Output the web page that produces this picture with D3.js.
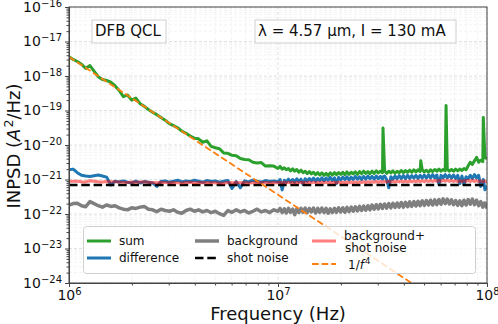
<!DOCTYPE html>
<html lang="en">
<head>
<meta charset="UTF-8">
<title>INPSD of a DFB QCL</title>
<script src="https://cdn.jsdelivr.net/npm/d3@7"></script>
<style>
  body { margin: 0; background: #fff; }
  svg { display: block; font-family: "DejaVu Sans", sans-serif; }
  .grid-major { stroke: #d8d8d8; stroke-width: 0.8; stroke-dasharray: 3,2; }
  .grid-minor { stroke: #ebebeb; stroke-width: 0.6; stroke-dasharray: 3,2; }
  .axis path, .axis line { stroke: #444; }
  .axis text { font-size: 14px; fill: #111; font-family: "DejaVu Sans", sans-serif; }
</style>
</head>
<body>
<div id="chart"></div>
<script>
// frequency points (MHz)
const freqMHz = [
  1.000, 1.047, 1.096, 1.148, 1.202, 1.259, 1.318, 1.380, 1.445, 1.514,
  1.585, 1.660, 1.738, 1.820, 1.905, 1.995, 2.089, 2.188, 2.291, 2.399,
  2.512, 2.630, 2.754, 2.884, 3.020, 3.162, 3.311, 3.467, 3.631, 3.802,
  3.981, 4.169, 4.365, 4.571, 4.786, 5.012, 5.248, 5.495, 5.754, 6.026,
  6.310, 6.607, 6.918, 7.244, 7.586, 7.943, 8.318, 8.710, 9.120, 9.550,
  10.00,
  10.23, 10.47, 10.72, 10.96, 11.22, 11.48, 11.75, 12.02, 12.30, 12.59,
  12.88, 13.18, 13.49, 13.80, 14.13, 14.45, 14.79, 15.14, 15.49, 15.85,
  16.22, 16.60, 16.98, 17.38, 17.78, 18.20, 18.62, 19.05, 19.50, 19.95,
  20.42, 20.89, 21.38, 21.88, 22.39, 22.91, 23.44, 23.99, 24.55, 25.12,
  25.70, 26.30, 26.92, 27.54, 28.18, 28.84, 29.51, 30.20, 30.90, 31.62,
  31.80,
  32.36, 33.11, 33.88, 34.67, 35.48, 36.31, 37.15, 38.02, 38.90, 39.81,
  40.74, 41.69, 42.66, 43.65, 44.67, 45.71, 46.77, 47.86,
  48.20,
  48.98, 50.12, 51.29, 52.48, 53.70, 54.95, 56.23, 57.54, 58.88, 60.26, 61.66, 63.10,
  63.70,
  64.57, 66.07, 67.61, 69.18, 70.79, 72.44, 74.13, 75.86, 77.62, 79.43,
  81.28, 83.18, 85.11, 87.10, 89.13, 91.20, 93.33, 95.50,
  96.00,
  97.72, 100.0
];

// INPSD (A^2/Hz)
const sumPSD = [
  3.63e-18, 3.02e-18, 2.63e-18, 2.19e-18, 1.66e-18, 2.00e-18, 1.38e-18, 9.55e-19, 7.94e-19, 7.41e-19,
  6.61e-19, 5.25e-19, 3.80e-19, 2.51e-19, 2.82e-19, 2.00e-19, 2.29e-19, 1.58e-19, 1.32e-19, 1.07e-19,
  8.91e-20, 7.59e-20, 6.31e-20, 5.25e-20, 4.17e-20, 3.63e-20, 3.16e-20, 2.51e-20, 2.19e-20, 1.82e-20,
  1.58e-20, 1.51e-20, 1.20e-20, 1.32e-20, 9.12e-21, 8.32e-21, 7.76e-21, 5.89e-21, 5.75e-21, 5.01e-21,
  4.90e-21, 4.07e-21, 3.80e-21, 3.72e-21, 3.16e-21, 3.02e-21, 3.09e-21, 2.45e-21, 2.51e-21, 2.45e-21,
  2.09e-21,
  2.40e-21, 2.00e-21, 2.19e-21, 1.91e-21, 2.09e-21, 1.78e-21, 2.04e-21, 1.74e-21, 1.95e-21, 1.62e-21,
  1.86e-21, 1.58e-21, 1.74e-21, 1.48e-21, 1.70e-21, 1.45e-21, 1.62e-21, 1.38e-21, 1.58e-21, 1.35e-21,
  1.55e-21, 1.32e-21, 1.51e-21, 1.32e-21, 1.55e-21, 1.35e-21, 1.58e-21, 1.38e-21, 1.58e-21, 1.41e-21,
  1.62e-21, 1.38e-21, 1.66e-21, 1.41e-21, 1.62e-21, 1.45e-21, 1.66e-21, 1.41e-21, 1.70e-21, 1.48e-21,
  1.74e-21, 1.51e-21, 1.70e-21, 1.48e-21, 1.74e-21, 1.51e-21, 1.78e-21, 1.55e-21, 1.74e-21, 1.58e-21,
  3.1e-20,
  1.78e-21, 1.51e-21, 1.74e-21, 1.55e-21, 1.78e-21, 1.51e-21, 1.74e-21, 1.58e-21, 1.82e-21, 1.58e-21,
  1.82e-21, 1.62e-21, 1.86e-21, 1.62e-21, 1.91e-21, 1.66e-21, 1.91e-21, 1.70e-21,
  3.5e-21,
  1.91e-21, 1.66e-21, 1.86e-21, 1.62e-21, 1.91e-21, 1.70e-21, 1.95e-21, 1.74e-21, 2.00e-21, 1.74e-21, 1.95e-21, 1.78e-21,
  1.4e-19,
  2.00e-21, 1.74e-21, 1.95e-21, 1.74e-21, 2.00e-21, 1.78e-21, 2.00e-21, 1.82e-21, 2.09e-21, 1.91e-21,
  2.51e-21, 3.16e-21, 2.75e-21, 3.47e-21, 4.37e-21, 3.16e-21, 3.63e-21, 3.31e-21,
  6.3e-20,
  4.37e-21, 3.98e-21
];

const diffPSD = [
  1.91e-21, 2.00e-21, 1.58e-21, 1.32e-21, 1.26e-21, 1.23e-21, 1.29e-21, 1.35e-21, 1.26e-21, 1.17e-21,
  6.92e-22, 8.91e-22, 8.51e-22, 9.12e-22, 8.32e-22, 7.94e-22, 8.91e-22, 7.94e-22, 8.71e-22, 8.32e-22,
  7.94e-22, 6.31e-22, 8.71e-22, 9.12e-22, 8.32e-22, 8.91e-22, 9.55e-22, 8.51e-22, 9.12e-22, 8.71e-22,
  9.55e-22, 8.91e-22, 8.32e-22, 9.33e-22, 8.71e-22, 9.12e-22, 8.32e-22, 8.91e-22, 9.33e-22, 5.50e-22,
  8.71e-22, 5.75e-22, 9.12e-22, 8.51e-22, 9.55e-22, 8.91e-22, 8.32e-22, 9.33e-22, 8.71e-22, 9.12e-22,
  8.51e-22,
  1.00e-21, 5.01e-22, 9.55e-22, 8.32e-22, 1.02e-21, 8.51e-22, 1.00e-21, 8.32e-22, 1.05e-21, 8.71e-22,
  1.02e-21, 7.24e-22, 1.05e-21, 8.91e-22, 1.07e-21, 9.12e-22, 1.10e-21, 8.91e-22, 1.07e-21, 9.33e-22,
  1.12e-21, 9.12e-22, 1.10e-21, 9.55e-22, 1.15e-21, 9.33e-22, 1.12e-21, 7.59e-22, 1.15e-21, 9.77e-22,
  1.17e-21, 1.00e-21, 1.20e-21, 9.77e-22, 1.17e-21, 1.00e-21, 1.23e-21, 1.02e-21, 1.20e-21, 1.00e-21,
  1.23e-21, 1.02e-21, 1.26e-21, 1.05e-21, 1.23e-21, 1.02e-21, 1.26e-21, 1.05e-21, 1.23e-21, 1.02e-21,
  1.20e-21,
  1.26e-21, 1.00e-21, 5.75e-22, 1.20e-21, 1.02e-21, 1.26e-21, 1.05e-21, 1.29e-21, 1.07e-21, 1.29e-21,
  1.05e-21, 1.32e-21, 1.07e-21, 1.29e-21, 1.10e-21, 1.32e-21, 1.07e-21, 1.32e-21,
  1.26e-21,
  1.10e-21, 1.35e-21, 1.10e-21, 1.35e-21, 1.12e-21, 1.38e-21, 1.12e-21, 1.35e-21, 7.24e-22, 1.32e-21, 1.12e-21, 1.38e-21,
  1.26e-21,
  1.12e-21, 1.35e-21, 1.10e-21, 1.35e-21, 1.07e-21, 1.32e-21, 7.59e-22, 1.26e-21, 7.24e-22, 1.20e-21,
  1.05e-21, 1.32e-21, 1.07e-21, 1.38e-21, 1.12e-21, 1.32e-21, 6.31e-22, 8.32e-22,
  1.00e-21,
  5.01e-22, 6.61e-22
];

const bgPSD = [
  1.82e-22, 2.00e-22, 2.04e-22, 1.74e-22, 1.62e-22, 2.29e-22, 2.00e-22, 1.74e-22, 1.58e-22, 1.82e-22,
  1.66e-22, 1.74e-22, 1.51e-22, 1.38e-22, 1.32e-22, 1.51e-22, 1.45e-22, 1.58e-22, 1.66e-22, 1.38e-22,
  1.32e-22, 1.17e-22, 1.38e-22, 1.26e-22, 1.20e-22, 1.32e-22, 1.12e-22, 1.05e-22, 1.26e-22, 1.38e-22,
  1.20e-22, 1.32e-22, 1.15e-22, 1.26e-22, 1.10e-22, 1.20e-22, 1.02e-22, 9.12e-23, 1.26e-22, 1.12e-22,
  1.32e-22, 1.15e-22, 1.26e-22, 1.07e-22, 1.20e-22, 1.38e-22, 1.15e-22, 1.26e-22, 1.10e-22, 1.32e-22,
  1.20e-22,
  1.45e-22, 1.10e-22, 1.41e-22, 1.07e-22, 1.45e-22, 1.12e-22, 1.38e-22, 9.55e-23, 1.41e-22, 1.10e-22,
  1.45e-22, 1.12e-22, 1.48e-22, 1.10e-22, 1.45e-22, 1.15e-22, 1.48e-22, 1.07e-22, 1.45e-22, 1.12e-22,
  1.48e-22, 1.10e-22, 1.45e-22, 1.05e-22, 1.41e-22, 1.10e-22, 1.45e-22, 1.12e-22, 1.51e-22, 1.15e-22,
  1.51e-22, 1.12e-22, 1.55e-22, 1.17e-22, 1.58e-22, 1.20e-22, 1.62e-22, 1.23e-22, 1.66e-22, 1.26e-22,
  1.70e-22, 1.29e-22, 1.74e-22, 1.32e-22, 1.82e-22, 1.38e-22, 1.86e-22, 1.41e-22, 1.91e-22, 1.45e-22,
  1.66e-22,
  1.95e-22, 1.48e-22, 2.00e-22, 1.51e-22, 2.04e-22, 1.55e-22, 2.09e-22, 1.58e-22, 2.14e-22, 1.58e-22,
  2.19e-22, 1.62e-22, 2.24e-22, 1.66e-22, 2.29e-22, 1.70e-22, 2.34e-22, 1.74e-22,
  2.00e-22,
  2.40e-22, 1.78e-22, 2.45e-22, 1.82e-22, 2.51e-22, 1.82e-22, 2.57e-22, 1.86e-22, 2.63e-22, 1.91e-22, 2.75e-22, 2.00e-22,
  2.40e-22,
  2.69e-22, 1.95e-22, 2.57e-22, 1.86e-22, 2.45e-22, 1.78e-22, 2.40e-22, 1.74e-22, 2.51e-22, 1.82e-22,
  2.63e-22, 1.91e-22, 2.69e-22, 1.86e-22, 2.51e-22, 1.74e-22, 2.29e-22, 1.58e-22,
  2.00e-22,
  2.09e-22, 1.45e-22
];

const shotNoise = 6.9e-22;

// 1/f^4 guide line end points
const fitFreq = [1e6, 1e8];
const fitPSD = [3.6e-18, 3.6e-26];

const xTicks = [1e6, 1e7, 1e8];
const xTickExp = ["6", "7", "8"];
const yTicks = [1e-24, 1e-23, 1e-22, 1e-21, 1e-20, 1e-19, 1e-18, 1e-17, 1e-16];
const yTickExp = ["\u221224", "\u221223", "\u221222", "\u221221", "\u221220", "\u221219", "\u221218", "\u221217", "\u221216"];

const legendLabels = ["sum", "difference", "background", "shot noise", "background+\nshot noise", "1/f^4"];
const annotations = ["DFB QCL", "\u03bb = 4.57 \u00b5m, I = 130 mA"];

const width = 498, height = 324;
const margin = {top: 7, right: 11, bottom: 41, left: 69};
const w = width - margin.left - margin.right;
const h = height - margin.top - margin.bottom;

const svg = d3.select("#chart").append("svg")
    .attr("width", width)
    .attr("height", height);

const g = svg.append("g")
    .attr("transform", `translate(${margin.left},${margin.top})`);

const x = d3.scaleLog().domain([1e6, 1e8]).range([0, w]);
const y = d3.scaleLog().domain([1e-24, 1e-16]).range([h, 0]);

// minor tick positions (2..9 per decade)
const minorX = [];
for (let e = 6; e < 8; e++) for (let m = 2; m <= 9; m++) minorX.push(m * Math.pow(10, e));
const minorY = [];
for (let e = -24; e < -16; e++) for (let m = 2; m <= 9; m++) minorY.push(m * Math.pow(10, e));

// grid
const grid = g.append("g");
grid.selectAll(".gx-minor").data(minorX).enter().append("line")
    .attr("class", "grid-minor")
    .attr("x1", d => x(d)).attr("x2", d => x(d)).attr("y1", 0).attr("y2", h);
grid.selectAll(".gy-minor").data(minorY).enter().append("line")
    .attr("class", "grid-minor")
    .attr("y1", d => y(d)).attr("y2", d => y(d)).attr("x1", 0).attr("x2", w);
grid.selectAll(".gx-major").data(xTicks).enter().append("line")
    .attr("class", "grid-major")
    .attr("x1", d => x(d)).attr("x2", d => x(d)).attr("y1", 0).attr("y2", h);
grid.selectAll(".gy-major").data(yTicks).enter().append("line")
    .attr("class", "grid-major")
    .attr("y1", d => y(d)).attr("y2", d => y(d)).attr("x1", 0).attr("x2", w);

// data lines
svg.append("defs").append("clipPath").attr("id", "clip")
    .append("rect").attr("width", w).attr("height", h);

const plot = g.append("g").attr("clip-path", "url(#clip)");
const freq = freqMHz.map(f => f * 1e6);

const line = d3.line()
    .x(d => x(d[0]))
    .y(d => y(d[1]));

function series(vals) { return freq.map((f, i) => [f, vals[i]]); }

const bgShot = bgPSD.map(v => v + shotNoise);

plot.append("path").datum(series(sumPSD))
    .attr("d", line).attr("fill", "none")
    .attr("stroke", "#2ca02c").attr("stroke-width", 3).attr("stroke-linejoin", "round");
plot.append("path").datum(series(diffPSD))
    .attr("d", line).attr("fill", "none")
    .attr("stroke", "#1f77b4").attr("stroke-width", 3).attr("stroke-linejoin", "round");
plot.append("path").datum(series(bgPSD))
    .attr("d", line).attr("fill", "none")
    .attr("stroke", "#7f7f7f").attr("stroke-width", 3.5).attr("stroke-linejoin", "round");
plot.append("path").datum([[1e6, shotNoise], [1e8, shotNoise]])
    .attr("d", line).attr("fill", "none")
    .attr("stroke", "#000").attr("stroke-width", 2.5).attr("stroke-dasharray", "8.5,3.8");
plot.append("path").datum(series(bgShot))
    .attr("d", line).attr("fill", "none")
    .attr("stroke", "red").attr("stroke-opacity", 0.5).attr("stroke-width", 3).attr("stroke-linejoin", "round");
plot.append("path").datum(fitFreq.map((f, i) => [f, fitPSD[i]]))
    .attr("d", line).attr("fill", "none")
    .attr("stroke", "#ff7f0e").attr("stroke-width", 1.8).attr("stroke-dasharray", "6.7,2.9");

// axes
g.append("g").attr("class", "axis")
    .attr("transform", `translate(0,${h})`)
    .call(d3.axisBottom(x).tickValues(minorX).tickSize(2.5).tickSizeOuter(0).tickFormat(""));
const xAxis = g.append("g").attr("class", "axis")
    .attr("transform", `translate(0,${h})`)
    .call(d3.axisBottom(x).tickValues(xTicks).tickSize(4).tickSizeOuter(0).tickPadding(3));
xAxis.selectAll(".tick text").each(function(d) {
  const t = d3.select(this).text("10");
  t.append("tspan").attr("dy", -5).attr("font-size", 10).text(xTickExp[xTicks.indexOf(d)]);
});

g.append("g").attr("class", "axis")
    .call(d3.axisLeft(y).tickValues(minorY).tickSize(2.5).tickSizeOuter(0).tickFormat(""));
const yAxis = g.append("g").attr("class", "axis")
    .call(d3.axisLeft(y).tickValues(yTicks).tickSize(4).tickSizeOuter(0).tickPadding(3));
yAxis.selectAll(".tick text").each(function(d) {
  const t = d3.select(this).text("10");
  t.append("tspan").attr("dy", -5).attr("font-size", 10).text(yTickExp[yTicks.indexOf(d)]);
});

// frame
g.append("rect").attr("width", w).attr("height", h)
    .attr("fill", "none").attr("stroke", "#444").attr("stroke-width", 1);

// axis labels
svg.append("text")
    .attr("x", margin.left + w / 2).attr("y", 320)
    .attr("text-anchor", "middle").attr("font-size", 18).attr("fill", "#111")
    .text("Frequency (Hz)");

const yl = svg.append("text")
    .attr("transform", "rotate(-90)")
    .attr("x", -146).attr("y", 20)
    .attr("text-anchor", "middle").attr("font-size", 18).attr("fill", "#111");
yl.append("tspan").text("INPSD (");
yl.append("tspan").attr("font-style", "italic").text("A");
yl.append("tspan").attr("font-size", 12.6).attr("dy", -7).attr("dx", 1).text("2");
yl.append("tspan").attr("dy", 7).text("/Hz)");

// annotation boxes
const annBoxes = [[92, 166], [255, 456]];
annotations.forEach((txt, i) => {
  svg.append("rect")
      .attr("x", annBoxes[i][0]).attr("y", 20)
      .attr("width", annBoxes[i][1] - annBoxes[i][0]).attr("height", 23)
      .attr("fill", "#fff").attr("fill-opacity", 0.8)
      .attr("stroke", "#d0d0d0").attr("stroke-width", 1);
  svg.append("text")
      .attr("x", annBoxes[i][0] + 3).attr("y", 36)
      .attr("font-size", 15).attr("fill", "#111")
      .text(txt);
});

// legend
const lg = svg.append("g");
lg.append("rect")
    .attr("x", 83.5).attr("y", 226.5).attr("width", 392).attr("height", 47).attr("rx", 3)
    .attr("fill", "#fff").attr("fill-opacity", 0.8)
    .attr("stroke", "#d0d0d0").attr("stroke-width", 1);

const legendItems = [
  {col: 87, row: 241, stroke: "#2ca02c", width: 3},
  {col: 87, row: 258, stroke: "#1f77b4", width: 3},
  {col: 195, row: 241, stroke: "#7f7f7f", width: 3.5},
  {col: 195, row: 258, stroke: "#000", width: 2.5, dash: "8.5,3.8"},
  {col: 312, row: 241, stroke: "red", width: 3, opacity: 0.5},
  {col: 312, row: 264, stroke: "#ff7f0e", width: 1.8, dash: "6.7,2.9"}
];

legendItems.forEach((it, i) => {
  lg.append("line")
      .attr("x1", it.col).attr("x2", it.col + 24)
      .attr("y1", it.row).attr("y2", it.row)
      .attr("stroke", it.stroke).attr("stroke-width", it.width)
      .attr("stroke-opacity", it.opacity || 1)
      .attr("stroke-dasharray", it.dash || null);
  const label = legendLabels[i];
  const t = lg.append("text")
      .attr("x", it.col + 32).attr("font-size", 12).attr("fill", "#111");
  if (label.includes("\n")) {
    const parts = label.split("\n");
    t.attr("y", it.row - 1);
    t.append("tspan").attr("x", it.col + 32).text(parts[0]);
    t.append("tspan").attr("x", it.col + 33).attr("dy", 11.5).text(parts[1]);
  } else if (label.includes("^")) {
    const [base, sup] = label.split("^");
    t.attr("y", it.row + 5).attr("x", it.col + 36);
    t.append("tspan").text(base.slice(0, -1));
    t.append("tspan").attr("font-style", "italic").text(base.slice(-1));
    t.append("tspan").attr("font-size", 8.5).attr("dy", -5).attr("dx", 1).text(sup);
  } else {
    t.attr("y", it.row + 4).text(label);
  }
});
</script>
</body>
</html>
